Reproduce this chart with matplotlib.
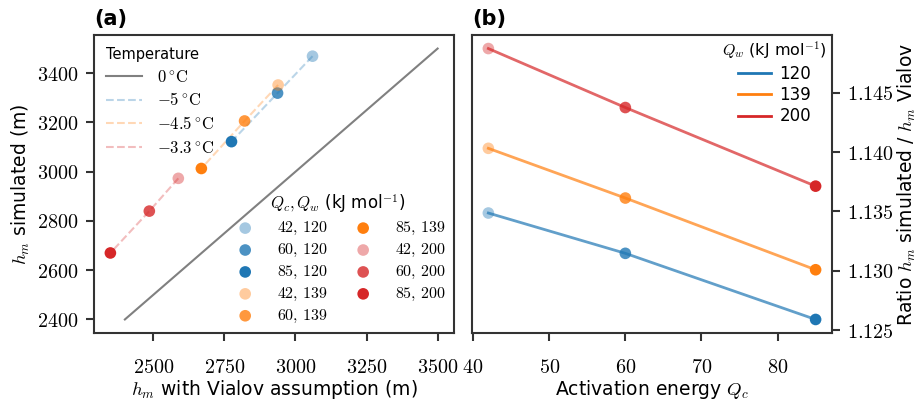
import matplotlib
matplotlib.use("Agg")
import matplotlib.pyplot as plt
from matplotlib.lines import Line2D

plt.rcParams['mathtext.fontset'] = 'cm'
plt.rcParams['font.family'] = ['DejaVu Sans']

# activation energies and Q_w values
qc = [42, 60, 85]
qw = [120, 139, 200]
temps = [r'$-5\,^{\circ}\mathrm{C}$', r'$-4.5\,^{\circ}\mathrm{C}$',
         r'$-3.3\,^{\circ}\mathrm{C}$']

# h_m with Vialov assumption (x) and simulated (y), one list per Q_w
h_vialov = {
    120: [3060, 2937, 2775],
    139: [2939, 2821, 2669],
    200: [2588, 2486, 2349],
}
h_sim = {
    120: [3469, 3319, 3122],
    139: [3352, 3206, 3013],
    200: [2973, 2840, 2670],
}
# ratio h_m simulated / h_m Vialov
ratio = {
    120: [1.13487, 1.13148, 1.12592],
    139: [1.14031, 1.13613, 1.13010],
    200: [1.14870, 1.14374, 1.13713],
}

one_to_one = [2400, 3500]

colors = {120: '#1f77b4', 139: '#ff7f0e', 200: '#d62728'}
alphas = [0.4, 0.8, 1.0]
spine_col = '#333333'

fig = plt.figure(figsize=(9.19, 4.07), dpi=100)
ax1 = fig.add_axes([0.1023, 0.1818, 0.3917, 0.7322])
ax2 = fig.add_axes([0.5136, 0.1818, 0.3917, 0.7322])

# ---- panel (a)
ax1.plot(one_to_one, one_to_one, color='gray', lw=1.5)
for w in qw:
    ax1.plot(h_vialov[w], h_sim[w], '--', color=colors[w], alpha=0.3, lw=1.5)
pts = []
for w in qw:
    for i, c in enumerate(qc):
        s = ax1.scatter(h_vialov[w][i], h_sim[w][i], s=70, color=colors[w],
                        alpha=alphas[i], edgecolor='none', zorder=3,
                        label=rf'${c},\,{w}$')
        pts.append(s)

temp_handles = [Line2D([], [], color='gray', lw=1.5,
                       label=r'$0\,^{\circ}\mathrm{C}$')]
for w, t in zip(qw, temps):
    temp_handles.append(Line2D([], [], color=colors[w], alpha=0.3, ls='--',
                               lw=1.5, label=t))
leg1 = ax1.legend(handles=temp_handles, loc='upper left', frameon=False,
                  title='Temperature', fontsize=12, title_fontsize=10.5,
                  handlelength=2.2, handletextpad=0.9, labelspacing=0.35,
                  borderaxespad=0.3, borderpad=0.4)
leg1._legend_box.align = 'left'
ax1.add_artist(leg1)
leg2 = ax1.legend(handles=pts, loc='lower right', ncol=2, frameon=False,
                  title=r'$Q_c, Q_w$ (kJ mol$^{\mathsf{-1}}$)', fontsize=11.5,
                  title_fontsize=12, labelspacing=0.3, columnspacing=1.2,
                  handletextpad=1.0, borderaxespad=0.1)

ax1.set_xticks([2500, 2750, 3000, 3250, 3500])
ax1.set_xticklabels([rf'${v}$' for v in [2500, 2750, 3000, 3250, 3500]])
ax1.set_yticks([2400, 2600, 2800, 3000, 3200, 3400])
ax1.set_yticklabels([rf'${v}$' for v in [2400, 2600, 2800, 3000, 3200, 3400]])
ax1.set_xlabel(r'$h_m$ with Vialov assumption (m)', fontsize=13.5, labelpad=1)
ax1.set_ylabel(r'$h_m$ simulated (m)', fontsize=13.5)
ax1.text(0.0, 1.02, '(a)', transform=ax1.transAxes, fontsize=15,
         fontweight='bold', va='bottom', ha='left')

# ---- panel (b)
for w in qw:
    ax2.plot(qc, ratio[w], color=colors[w], alpha=0.7, lw=2, zorder=4)
    for i, c in enumerate(qc):
        ax2.scatter(c, ratio[w][i], s=70, color=colors[w], alpha=alphas[i],
                    edgecolor='none', zorder=3)
line_handles = [Line2D([], [], color=colors[w], lw=2, label=str(w)) for w in qw]
ax2.legend(handles=line_handles, loc='upper right', frameon=False,
           title=r'$Q_w$ (kJ mol$^{\mathsf{-1}}$)', fontsize=12,
           title_fontsize=11.5, labelspacing=0.2, handlelength=2.0,
           handletextpad=0.5, borderaxespad=0.0, borderpad=0.3)
ax2.yaxis.tick_right()
ax2.yaxis.set_label_position('right')
ax2.set_xticks([40, 50, 60, 70, 80])
ax2.set_xticklabels([rf'${v}$' for v in [40, 50, 60, 70, 80]])
yt = [1.125, 1.130, 1.135, 1.140, 1.145]
ax2.set_yticks(yt)
ax2.set_yticklabels([rf'${v:.3f}$' for v in yt])
ax2.set_xlabel(r'Activation energy $Q_c$', fontsize=13.5, labelpad=1)
ax2.set_ylabel(r'Ratio $h_m$ simulated / $h_m$ Vialov', fontsize=13.5,
               labelpad=1)
ax2.text(0.0, 1.02, '(b)', transform=ax2.transAxes, fontsize=15,
         fontweight='bold', va='bottom', ha='left')

for ax in (ax1, ax2):
    for sp in ax.spines.values():
        sp.set_color(spine_col)
        sp.set_linewidth(1.5)
    ax.tick_params(axis='both', labelsize=14.5, length=6, width=1.5,
                   color=spine_col)
    ax.tick_params(axis='x', pad=12)
    ax.tick_params(axis='y', pad=5)

fig.savefig('out.png', dpi=100)
